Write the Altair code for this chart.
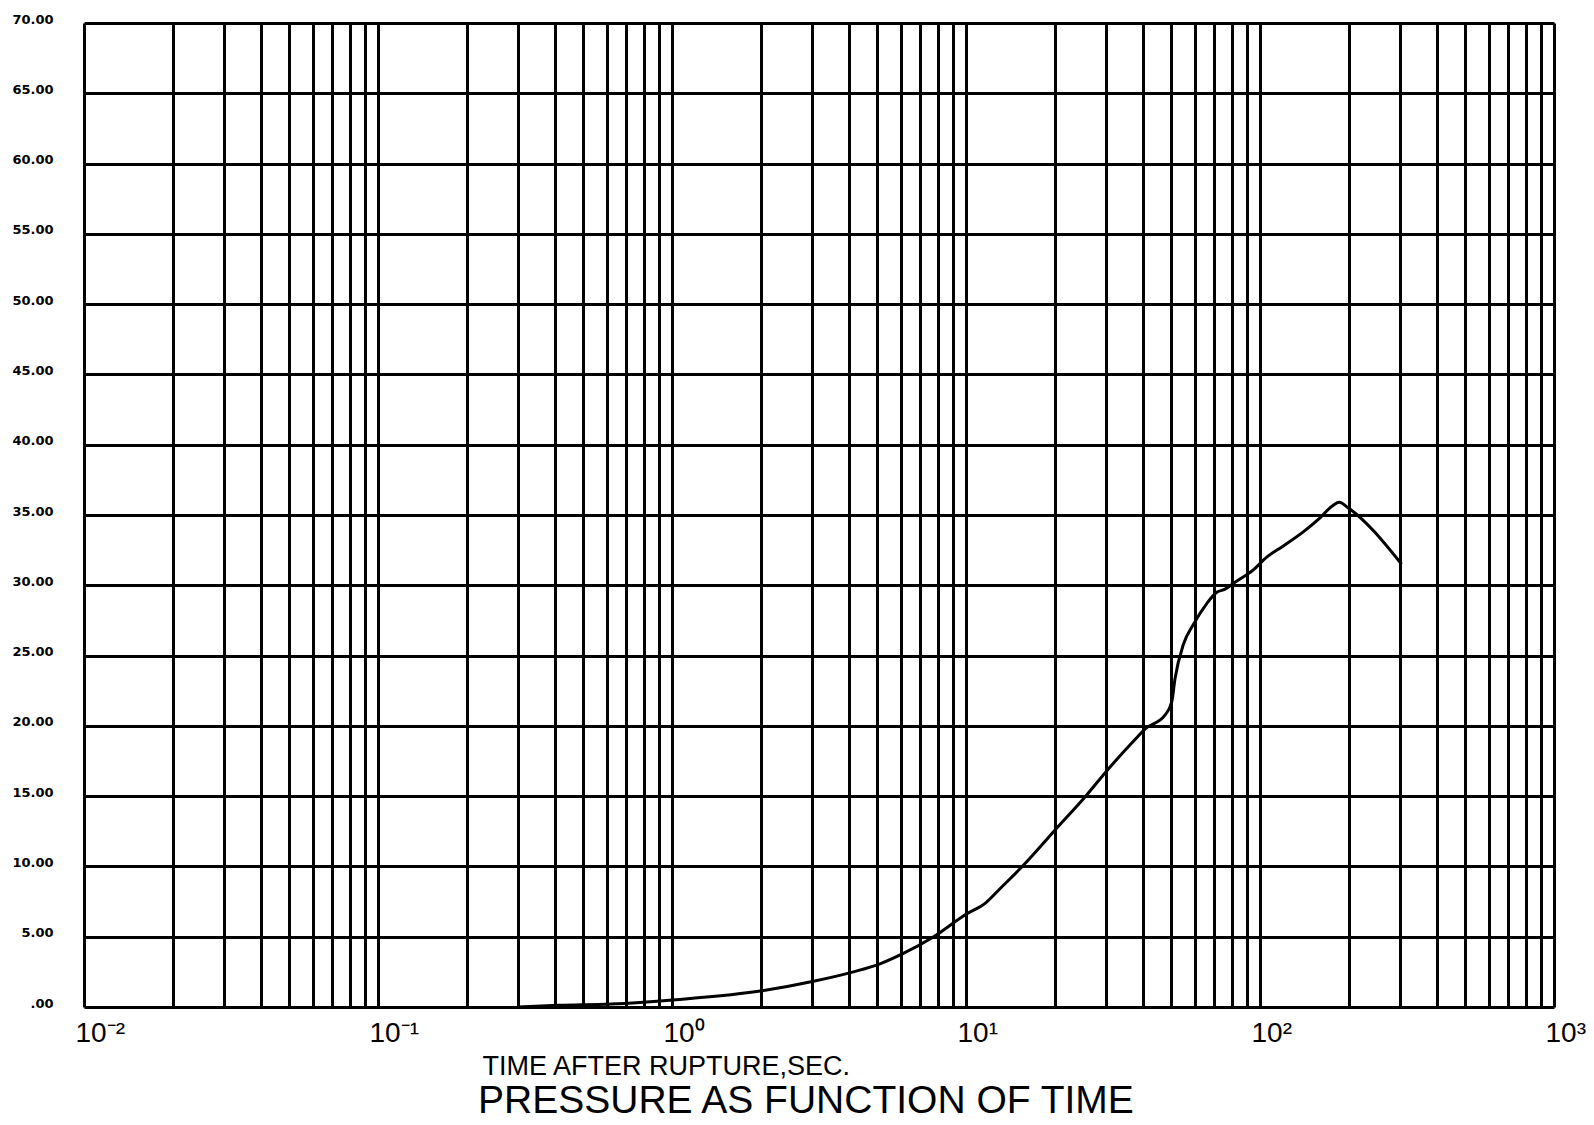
import altair as alt
import pandas as pd

# Curve data (time in s, pressure)
time_s = [0.30, 0.41, 0.62, 1.03, 2.05, 3.03, 4.14, 5.1, 6.12, 7.74, 10.0, 11.7, 13.1,
          15.7, 20.2, 25.7, 30.4, 37.1, 40.8, 47.5, 50.1, 51.4, 54.9, 59.3, 65.9,
          71.3, 76.1, 81.8, 94.9, 105.4, 120, 140.3, 160, 177.5, 186, 199.7, 303]
pressure = [0.0, 0.12, 0.21, 0.52, 1.17, 1.83, 2.5, 3.07, 3.81, 4.98, 6.6, 7.43, 8.45,
            10.1, 12.65, 15.07, 16.9, 18.9, 19.8, 20.76, 21.7, 23.36, 25.8, 27.2, 28.7,
            29.5, 29.73, 30.18, 31.1, 32.0, 32.8, 33.8, 34.8, 35.7, 35.9, 35.5, 31.5]

decades = [0.01, 0.1, 1, 10, 100, 1000]
decade_labels = ["10\u207b\u00b2", "10\u207b\u00b9", "10\u2070", "10\u00b9", "10\u00b2", "10\u00b3"]
x_ticks = [m * d for d in decades[:-1] for m in range(1, 10)] + [1000]
y_ticks = list(range(0, 75, 5))

df = pd.DataFrame({"t": time_s, "p": pressure})

label_expr = "''"
for v, lab in zip(reversed(decades), reversed(decade_labels)):
    label_expr = f"datum.value == {v} ? '{lab}' : ({label_expr})"

y_label_expr = "datum.value == 0 ? '.00' : format(datum.value, '.2f')"

TXT = "Liberation Sans"

chart = alt.Chart(df).mark_line(color="black", strokeWidth=3, interpolate="monotone").encode(
    x=alt.X("t:Q",
            scale=alt.Scale(type="log", domain=[0.01, 1000], nice=False),
            axis=alt.Axis(values=x_ticks, grid=True, gridColor="black", gridWidth=3,
                          gridOpacity=1, domain=False, ticks=False,
                          labelExpr=label_expr, labelFont=TXT, labelFontSize=28,
                          labelColor="black", labelAlign="left", labelOffset=-9,
                          labelPadding=12, labelBaseline="top", labelOverlap=False,
                          labelFlush=False,
                          title="TIME AFTER RUPTURE,SEC.", titleFont=TXT,
                          titleFontSize=27, titleFontWeight="normal", titleColor="black",
                          titleAlign="left", titleBaseline="alphabetic",
                          titleX=398, titleY=67)),
    y=alt.Y("p:Q",
            scale=alt.Scale(domain=[0, 70], nice=False),
            axis=alt.Axis(values=y_ticks, grid=True, gridColor="black", gridWidth=3,
                          gridOpacity=1, domain=False, ticks=False,
                          labelExpr=y_label_expr, labelFont="DejaVu Sans",
                          labelFontWeight="bold", labelFontSize=13, labelColor="black",
                          labelPadding=31, labelOffset=-4, labelOverlap=False,
                          labelFlush=False, title="")),
).properties(
    width=1470,
    height=984,
    autosize=alt.AutoSizeParams(type="none"),
    padding={"left": 76, "top": 15, "right": 32, "bottom": 118},
    title=alt.TitleParams("PRESSURE AS FUNCTION OF TIME", orient="bottom",
                          anchor="start", frame="group", dx=394, dy=3, font=TXT,
                          fontSize=39, fontWeight="normal", color="black", offset=0),
).configure_view(stroke="black", strokeWidth=4).configure(background="white")

chart.save("out.html", embed_options={"renderer": "svg", "actions": False})
